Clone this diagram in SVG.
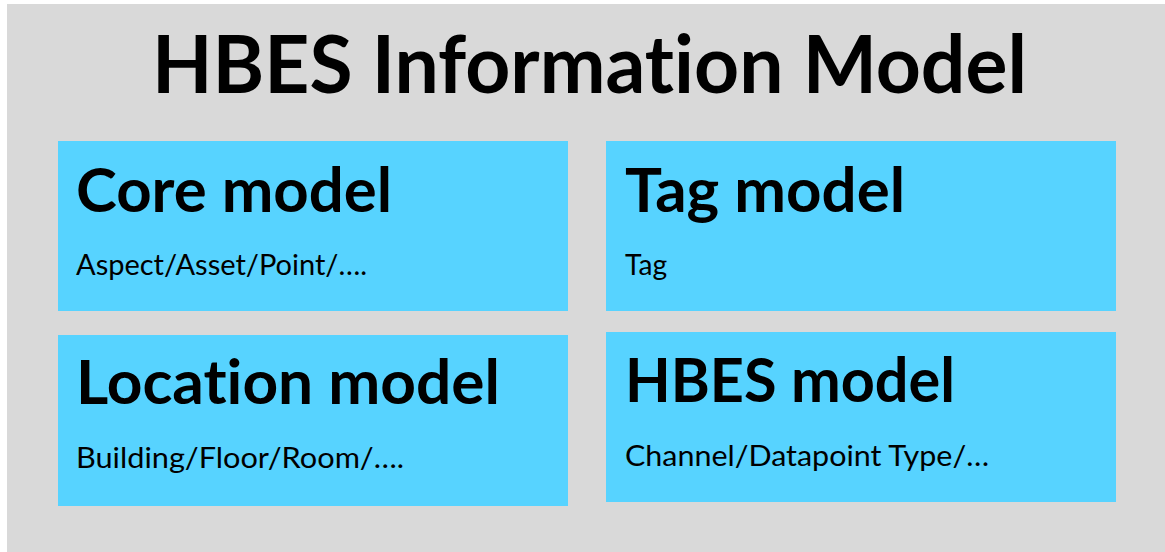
<svg xmlns="http://www.w3.org/2000/svg" width="1165" height="552" viewBox="0 0 1165 552">
<style>
.box{fill:#57d3ff}
.t{font-family:Lato,"Open Sans","Liberation Sans",sans-serif;fill:#000;font-variant-ligatures:none;font-feature-settings:"liga" 0,"dlig" 0}
.h{font-weight:bold;font-size:62px}
.s{font-size:29px}
</style>
<rect x="0" y="0" width="1165" height="552" fill="#ffffff"/>
<rect x="7" y="4" width="1158" height="548" fill="#d9d9d9"/>
<text class="t" x="152" y="93" font-weight="bold" font-size="80" textLength="875" lengthAdjust="spacingAndGlyphs">HBES Information Model</text>
<g id="core">
<rect class="box" x="58" y="141" width="510" height="170"/>
<text class="t h" x="76" y="212" textLength="316" lengthAdjust="spacingAndGlyphs">Core model</text>
<text class="t s" x="76" y="275" textLength="291" lengthAdjust="spacingAndGlyphs">Aspect/Asset/Point/….</text>
</g>
<g id="tag">
<rect class="box" x="606" y="141" width="510" height="170"/>
<text class="t h" x="625" y="212" textLength="280" lengthAdjust="spacingAndGlyphs">Tag model</text>
<text class="t s" x="625" y="275" textLength="42" lengthAdjust="spacingAndGlyphs">Tag</text>
</g>
<g id="location">
<rect class="box" x="58" y="335" width="510" height="171"/>
<text class="t h" x="76" y="404" textLength="424" lengthAdjust="spacingAndGlyphs">Location model</text>
<text class="t s" x="76" y="468" textLength="328" lengthAdjust="spacingAndGlyphs">Building/Floor/Room/….</text>
</g>
<g id="hbes">
<rect class="box" x="606" y="332" width="510" height="170"/>
<text class="t h" x="625" y="402" textLength="330" lengthAdjust="spacingAndGlyphs">HBES model</text>
<text class="t s" x="625" y="466" textLength="364" lengthAdjust="spacingAndGlyphs">Channel/Datapoint Type/…</text>
</g>
<g id="connectors"/>
</svg>
